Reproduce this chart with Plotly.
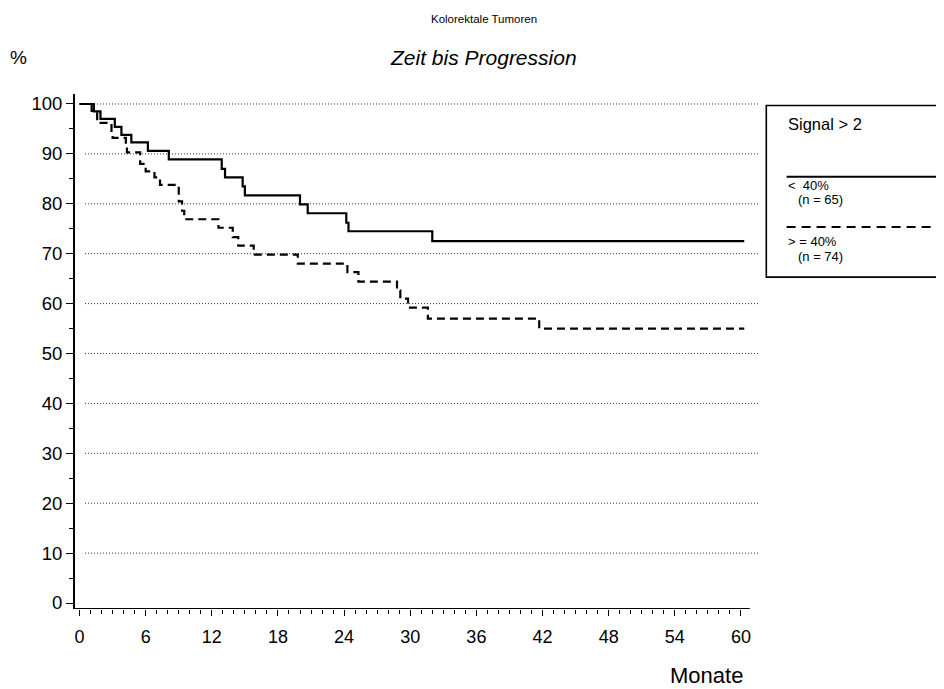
import plotly.graph_objects as go

# ---- data ----
months_solid = [0, 1.3, 1.9, 3.2, 3.8, 4.7, 6.2, 8.1, 12.9, 13.2, 14.8, 15.0, 20.0, 20.7, 24.2, 24.4, 32.0, 60.3]
pct_solid = [100, 98.5, 97.0, 95.4, 93.8, 92.3, 90.6, 88.9, 87.0, 85.3, 83.5, 81.7, 79.9, 78.1, 76.2, 74.5, 72.5, 72.5]

months_dashed = [0, 1.1, 1.6, 2.9, 3.0, 4.2, 4.3, 5.5, 6.0, 6.8, 7.3, 9.0, 9.3, 9.5, 12.6, 13.9, 14.4, 15.8,
                 19.8, 24.3, 25.3, 28.8, 29.1, 29.8, 31.6, 41.7, 60.3]
pct_dashed = [100, 98.6, 96.2, 94.6, 93.2, 91.9, 90.3, 88.0, 86.5, 85.3, 83.8, 80.5, 78.6, 76.9, 75.2, 73.3, 71.6, 69.8,
              68.0, 66.3, 64.4, 62.6, 61.0, 59.2, 57.0, 55.0, 55.0]

x_ticks = [0, 6, 12, 18, 24, 30, 36, 42, 48, 54, 60]
x_minor_ticks = [m for m in range(0, 61) if m not in x_ticks]
y_ticks = [0, 10, 20, 30, 40, 50, 60, 70, 80, 90, 100]
grid_levels = [10, 20, 30, 40, 50, 60, 70, 80, 90, 100]

title_small = "Kolorektale Tumoren"
title_main = "Zeit bis Progression"
y_label = "%"
x_label = "Monate"
legend_title = "Signal > 2"
legend_solid = ["<  40%", "(n = 65)"]
legend_dashed = ["> = 40%", "(n = 74)"]

# ---- layout geometry (reference pixels; page body has an 8px default margin) ----
OFF = 8
W, H = 944 - OFF, 689 - OFF
L, R, T, B = 75 - OFF, 763.4 - OFF, 93.5 - OFF, 609.5 - OFF
X_RANGE = [-0.41, 62]
Y_RANGE = [-1.2, 102]


def px(x):
    return ((x - OFF) - L) / (R - L)


def py(y):
    return (B - (y - OFF)) / (B - T)


FONT = "Liberation Sans, Arial, Helvetica, sans-serif"

fig = go.Figure()
fig.add_trace(go.Scatter(x=months_solid, y=pct_solid, mode="lines", line_shape="hv",
                         line=dict(color="black", width=2.2), showlegend=False, hoverinfo="skip"))
fig.add_trace(go.Scatter(x=months_dashed, y=pct_dashed, mode="lines", line_shape="hv",
                         line=dict(color="black", width=2.2, dash="8px,5px"), showlegend=False, hoverinfo="skip"))

shapes = []
for g in grid_levels:
    shapes.append(dict(type="line", xref="x", yref="y", x0=0.5, x1=61.7, y0=g, y1=g,
                       line=dict(color="#333333", width=1, dash="1px,2px"), layer="below"))
# x axis line (ends shortly after 60)
shapes.append(dict(type="line", xref="x", yref="y", x0=X_RANGE[0], x1=60.8, y0=Y_RANGE[0], y1=Y_RANGE[0],
                   line=dict(color="black", width=2)))
# legend box and sample lines
shapes.append(dict(type="rect", xref="paper", yref="paper", x0=px(766.7), x1=px(952), y0=py(277), y1=py(105),
                   line=dict(color="black", width=1.6)))
shapes.append(dict(type="line", xref="paper", yref="paper", x0=px(787), x1=px(952), y0=py(176.5), y1=py(176.5),
                   line=dict(color="black", width=2)))
shapes.append(dict(type="line", xref="paper", yref="paper", x0=px(787), x1=px(952), y0=py(226.7), y1=py(226.7),
                   line=dict(color="black", width=2, dash="9px,6px")))

annotations = [
    dict(text=title_small, x=px(484), y=py(18), xref="paper", yref="paper", showarrow=False,
         font=dict(size=11.5, family=FONT, color="black"), xanchor="center", yanchor="middle"),
    dict(text="<i>" + title_main + "</i>", x=px(484), y=py(57), xref="paper", yref="paper", showarrow=False,
         font=dict(size=21, family=FONT, color="black"), xanchor="center", yanchor="middle"),
    dict(text=y_label, x=px(8), y=py(57), xref="paper", yref="paper", showarrow=False,
         font=dict(size=19, family=FONT, color="black"), xanchor="left", yanchor="middle"),
    dict(text=x_label, x=px(745), y=py(676), xref="paper", yref="paper", showarrow=False,
         font=dict(size=22, family=FONT, color="black"), xanchor="right", yanchor="middle"),
    dict(text=legend_title, x=px(786), y=py(124), xref="paper", yref="paper", showarrow=False,
         font=dict(size=16.5, family=FONT, color="black"), xanchor="left", yanchor="middle"),
    dict(text=legend_solid[0], x=px(786), y=py(185), xref="paper", yref="paper", showarrow=False,
         font=dict(size=13, family=FONT, color="black"), xanchor="left", yanchor="middle"),
    dict(text=legend_solid[1], x=px(796), y=py(199), xref="paper", yref="paper", showarrow=False,
         font=dict(size=13, family=FONT, color="black"), xanchor="left", yanchor="middle"),
    dict(text=legend_dashed[0], x=px(786), y=py(241), xref="paper", yref="paper", showarrow=False,
         font=dict(size=13, family=FONT, color="black"), xanchor="left", yanchor="middle"),
    dict(text=legend_dashed[1], x=px(796), y=py(256), xref="paper", yref="paper", showarrow=False,
         font=dict(size=13, family=FONT, color="black"), xanchor="left", yanchor="middle"),
]

fig.update_layout(
    width=W, height=H,
    margin=dict(l=L, r=W - R, t=T, b=H - B, pad=0),
    paper_bgcolor="white", plot_bgcolor="white",
    shapes=shapes, annotations=annotations,
    xaxis=dict(range=X_RANGE, tickvals=x_ticks, ticktext=[str(v) for v in x_ticks],
               showgrid=False, zeroline=False, showline=False,
               ticks="outside", ticklen=6, tickwidth=1.3, tickcolor="black", ticklabelstandoff=5,
               tickfont=dict(size=18, family=FONT, color="black"),
               minor=dict(tickvals=x_minor_ticks, ticks="outside", ticklen=3.5, tickwidth=1,
                          tickcolor="black", showgrid=False)),
    yaxis=dict(range=Y_RANGE, tickvals=y_ticks, ticktext=[str(v) for v in y_ticks],
               showgrid=False, zeroline=False, showline=True, linecolor="black", linewidth=2,
               ticks="outside", ticklen=7, tickwidth=1.3, tickcolor="black",
               tickfont=dict(size=18.5, family=FONT, color="black"),
               minor=dict(dtick=5, tick0=0, ticks="outside", ticklen=4, tickwidth=1, tickcolor="black", showgrid=False)),
)

fig.write_html("out.html")
